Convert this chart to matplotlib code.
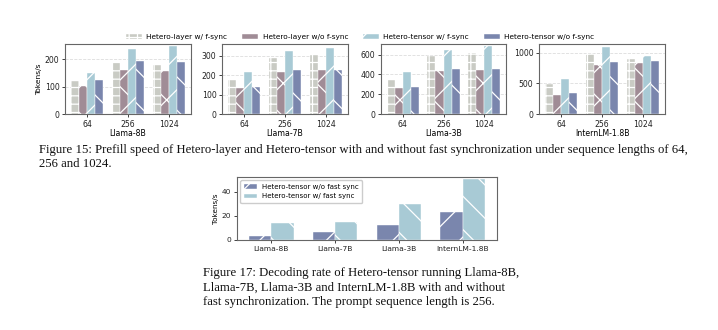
import numpy as np
import matplotlib
matplotlib.use('Agg')
import matplotlib.pyplot as plt
from matplotlib.patches import Patch

W, H = 718, 330

# ---- data ----
seq_lens = ['64', '256', '1024']
models_top = ['Llama-8B', 'Llama-7B', 'Llama-3B', 'InternLM-1.8B']
series_top = ['Hetero-layer w/ f-sync', 'Hetero-layer w/o f-sync',
              'Hetero-tensor w/ f-sync', 'Hetero-tensor w/o f-sync']
# per model: rows = series, cols = seq length
llama8b = [[119, 190, 179], [101, 160, 156], [151, 237, 248], [123, 195, 189]]
llama7b = [[176, 290, 305], [136, 218, 224], [218, 322, 340], [139, 228, 228]]
llama3b = [[339, 583, 614], [268, 430, 444], [424, 647, 688], [275, 458, 451]]
internlm = [[484, 978, 892], [312, 796, 828], [570, 1091, 941], [344, 849, 860]]
prefill = [llama8b, llama7b, llama3b, internlm]
yticks_top = [[0, 100, 200], [0, 100, 200, 300], [0, 200, 400, 600], [0, 500, 1000]]
ylim_top = [256, 360, 708, 1145]

models_bot = ['Llama-8B', 'Llama-7B', 'Llama-3B', 'InternLM-1.8B']
wo_fast_sync = [3.6, 6.7, 12.0, 23.2]
w_fast_sync = [13.7, 15.1, 29.6, 50.0]

cap15 = ['Figure 15: Prefill speed of Hetero-layer and Hetero-tensor with and without fast synchronization under sequence lengths of 64,',
         '256 and 1024.']
cap17 = ['Figure 17: Decoding rate of Hetero-tensor running Llama-8B,',
         'Llama-7B, Llama-3B and InternLM-1.8B with and without',
         'fast synchronization. The prompt sequence length is 256.']

colors = ['#c9cbc4', '#a08c96', '#a8cad5', '#7a86ad']
hatches = ['++', 'x', '/', '\\']

plt.rcParams['hatch.linewidth'] = 0.9
plt.rcParams['font.family'] = 'DejaVu Sans'

fig = plt.figure(figsize=(W / 100, H / 100), dpi=100)


def box(x0, x1, y0, y1):
    return [x0 / W, 1 - y1 / H, (x1 - x0) / W, (y1 - y0) / H]


def style(ax, fs=5.6):
    for s in ax.spines.values():
        s.set_color('#666666')
        s.set_linewidth(0.8)
    ax.tick_params(labelsize=fs, length=2.5, width=0.6, pad=1.5, colors='#222222')


top_x = [(65, 191), (222, 348), (381, 506), (539, 665)]
x = np.arange(len(seq_lens))
bw = 0.2
for i, (x0, x1) in enumerate(top_x):
    ax = fig.add_axes(box(x0, x1, 44, 114))
    for j in range(4):
        ax.bar(x + (j - 1.5) * bw, prefill[i][j], bw, color=colors[j],
               hatch=hatches[j], edgecolor='white', linewidth=0.3, zorder=2)
    ax.set_xticks(x)
    ax.set_xticklabels(seq_lens)
    ax.set_yticks(yticks_top[i])
    ax.set_ylim(0, ylim_top[i])
    ax.grid(axis='y', linestyle='--', color='#dddddd', linewidth=0.6, zorder=0)
    ax.set_axisbelow(True)
    ax.set_xlabel(models_top[i], fontsize=5.6, labelpad=0.5)
    style(ax)
    if i == 0:
        ax.set_ylabel('Tokens/s', fontsize=5.4, labelpad=2)

handles = [Patch(facecolor=colors[j], hatch=hatches[j], edgecolor='white', linewidth=0.3)
           for j in range(4)]
fig.legend(handles, series_top, loc='center', bbox_to_anchor=(360 / W, 1 - 37 / H),
           ncol=4, frameon=False, fontsize=5.3, handlelength=2.2, handleheight=0.7,
           handletextpad=0.6, columnspacing=2.0)

# ---- bottom chart ----
ax = fig.add_axes(box(237, 497, 177, 240))
xb = np.arange(len(models_bot))
bw2 = 0.35
ax.bar(xb - bw2 / 2, wo_fast_sync, bw2, color=colors[3], hatch='/',
       edgecolor='white', linewidth=0.3, label='Hetero-tensor w/o fast sync', zorder=2)
ax.bar(xb + bw2 / 2, w_fast_sync, bw2, color=colors[2], hatch='\\',
       edgecolor='white', linewidth=0.3, label='Hetero-tensor w/ fast sync', zorder=2)
ax.set_xticks(xb)
ax.set_xticklabels(models_bot)
ax.set_yticks([0, 20, 40])
ax.set_ylim(0, 52)
ax.set_ylabel('Tokens/s', fontsize=5.2, labelpad=2)
style(ax, fs=5.4)
ax.legend(loc='upper left', fontsize=5.0, handlelength=1.9, handleheight=0.7,
          handletextpad=0.7, borderpad=0.5, labelspacing=0.5, framealpha=1,
          edgecolor='#cccccc', fancybox=True)

# ---- captions ----
serif = dict(family='Liberation Serif', fontsize=9.2, va='center', ha='left', color='#111111')
for k, line in enumerate(cap15):
    fig.text(39 / W, 1 - (150 + 14 * k) / H, line, **serif)
for k, line in enumerate(cap17):
    fig.text(203 / W, 1 - (273 + 14.5 * k) / H, line, **serif)

fig.savefig('out.png', dpi=100)
